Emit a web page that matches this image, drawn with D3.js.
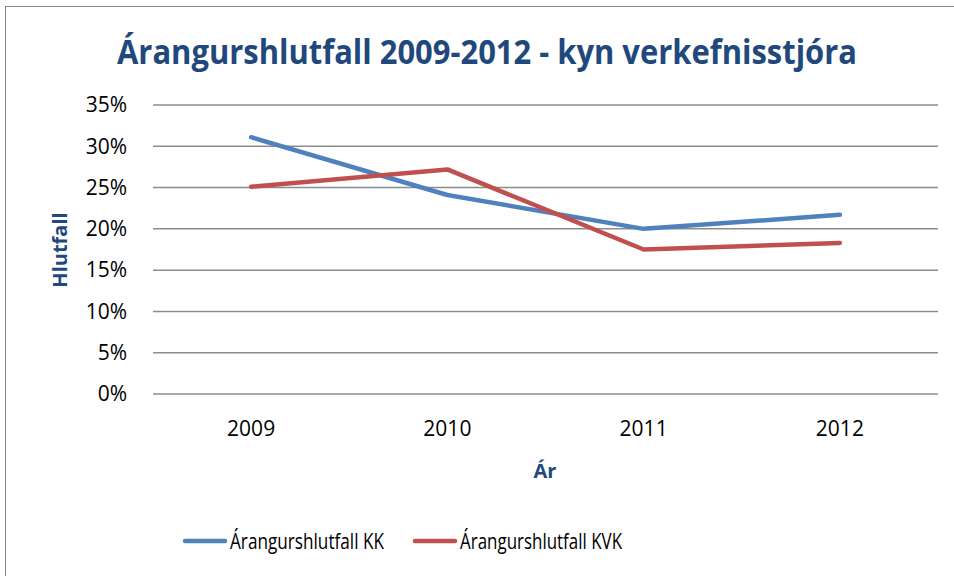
<!DOCTYPE html>
<html>
<head>
<meta charset="utf-8">
<script src="https://cdn.jsdelivr.net/npm/d3@7"></script>
<style>
  body { margin: 0; background: #fff; }
  text { font-family: "Open Sans", "Liberation Sans", sans-serif; }
</style>
</head>
<body>
<script>
const years = ['2009', '2010', '2011', '2012'];
const kk = [0.311, 0.241, 0.200, 0.217];
const kvk = [0.251, 0.272, 0.175, 0.183];
const yTicks = [0, 0.05, 0.10, 0.15, 0.20, 0.25, 0.30, 0.35];
const seriesNames = ['Árangurshlutfall KK', 'Árangurshlutfall KVK'];
const colors = ['#4F81BD', '#C0504D'];

const width = 954;
const height = 576;

const svg = d3.select('body').append('svg')
  .attr('width', width)
  .attr('height', height);

// chart border
svg.append('rect')
  .attr('x', 5.5)
  .attr('y', 6.5)
  .attr('width', 960)
  .attr('height', 600)
  .attr('fill', 'none')
  .attr('stroke', '#868686')
  .attr('stroke-width', 1);

const plot = { left: 153, right: 938, top: 105, bottom: 394 };

const x = d3.scaleBand()
  .domain(years)
  .range([plot.left, plot.right]);

const y = d3.scaleLinear()
  .domain([0, 0.35])
  .range([plot.bottom, plot.top]);

// gridlines
svg.append('g')
  .selectAll('line')
  .data(yTicks)
  .join('line')
  .attr('x1', plot.left)
  .attr('x2', plot.right)
  .attr('y1', d => y(d))
  .attr('y2', d => y(d))
  .attr('stroke', '#8c8c8c')
  .attr('stroke-width', 1.5);

// y axis labels
const yAxis = svg.append('g')
  .attr('transform', `translate(${plot.left}, 0)`)
  .call(d3.axisLeft(y).tickValues(yTicks).tickFormat(d3.format('.0%')).tickSize(0).tickPadding(26));
yAxis.select('.domain').remove();
yAxis.selectAll('text')
  .attr('font-size', 21)
  .attr('fill', '#000')
  .style('font-family', '"Open Sans", sans-serif');

// x axis labels
const xAxis = svg.append('g')
  .attr('transform', `translate(0, ${plot.bottom})`)
  .call(d3.axisBottom(x).tickSize(0).tickPadding(27));
xAxis.select('.domain').remove();
xAxis.selectAll('text')
  .attr('font-size', 21)
  .attr('fill', '#000')
  .style('font-family', '"Open Sans", sans-serif');

// lines
const line = d3.line()
  .x((d, i) => x(years[i]) + x.bandwidth() / 2)
  .y(d => y(d));

[kk, kvk].forEach((vals, i) => {
  svg.append('path')
    .datum(vals)
    .attr('d', line)
    .attr('fill', 'none')
    .attr('stroke', colors[i])
    .attr('stroke-width', 4.5)
    .attr('stroke-linecap', 'round')
    .attr('stroke-linejoin', 'round');
});

// title
svg.append('text')
  .attr('x', 487)
  .attr('y', 64)
  .attr('text-anchor', 'middle')
  .attr('font-size', 34)
  .attr('font-weight', 'bold')
  .attr('fill', '#1F497D')
  .attr('textLength', 740)
  .attr('lengthAdjust', 'spacingAndGlyphs')
  .text('Árangurshlutfall 2009-2012 - kyn verkefnisstjóra');

// axis titles
svg.append('text')
  .attr('x', 545)
  .attr('y', 478)
  .attr('text-anchor', 'middle')
  .attr('font-size', 20)
  .attr('font-weight', 'bold')
  .attr('fill', '#1F497D')
  .text('Ár');

svg.append('text')
  .attr('transform', 'translate(67, 250) rotate(-90)')
  .attr('text-anchor', 'middle')
  .attr('font-size', 20)
  .attr('font-weight', 'bold')
  .attr('fill', '#1F497D')
  .text('Hlutfall');

// legend
const legendX = [185, 415];
const legendTextLen = [154, 162];
seriesNames.forEach((name, i) => {
  const g = svg.append('g').attr('transform', `translate(${legendX[i]}, 541)`);
  g.append('line')
    .attr('x1', 0)
    .attr('x2', 40)
    .attr('stroke', colors[i])
    .attr('stroke-width', 4.5)
    .attr('stroke-linecap', 'round');
  g.append('text')
    .attr('x', 45)
    .attr('y', 8)
    .attr('font-size', 22)
    .attr('fill', '#000')
    .attr('textLength', legendTextLen[i])
    .attr('lengthAdjust', 'spacingAndGlyphs')
    .text(name);
});
</script>
</body>
</html>
